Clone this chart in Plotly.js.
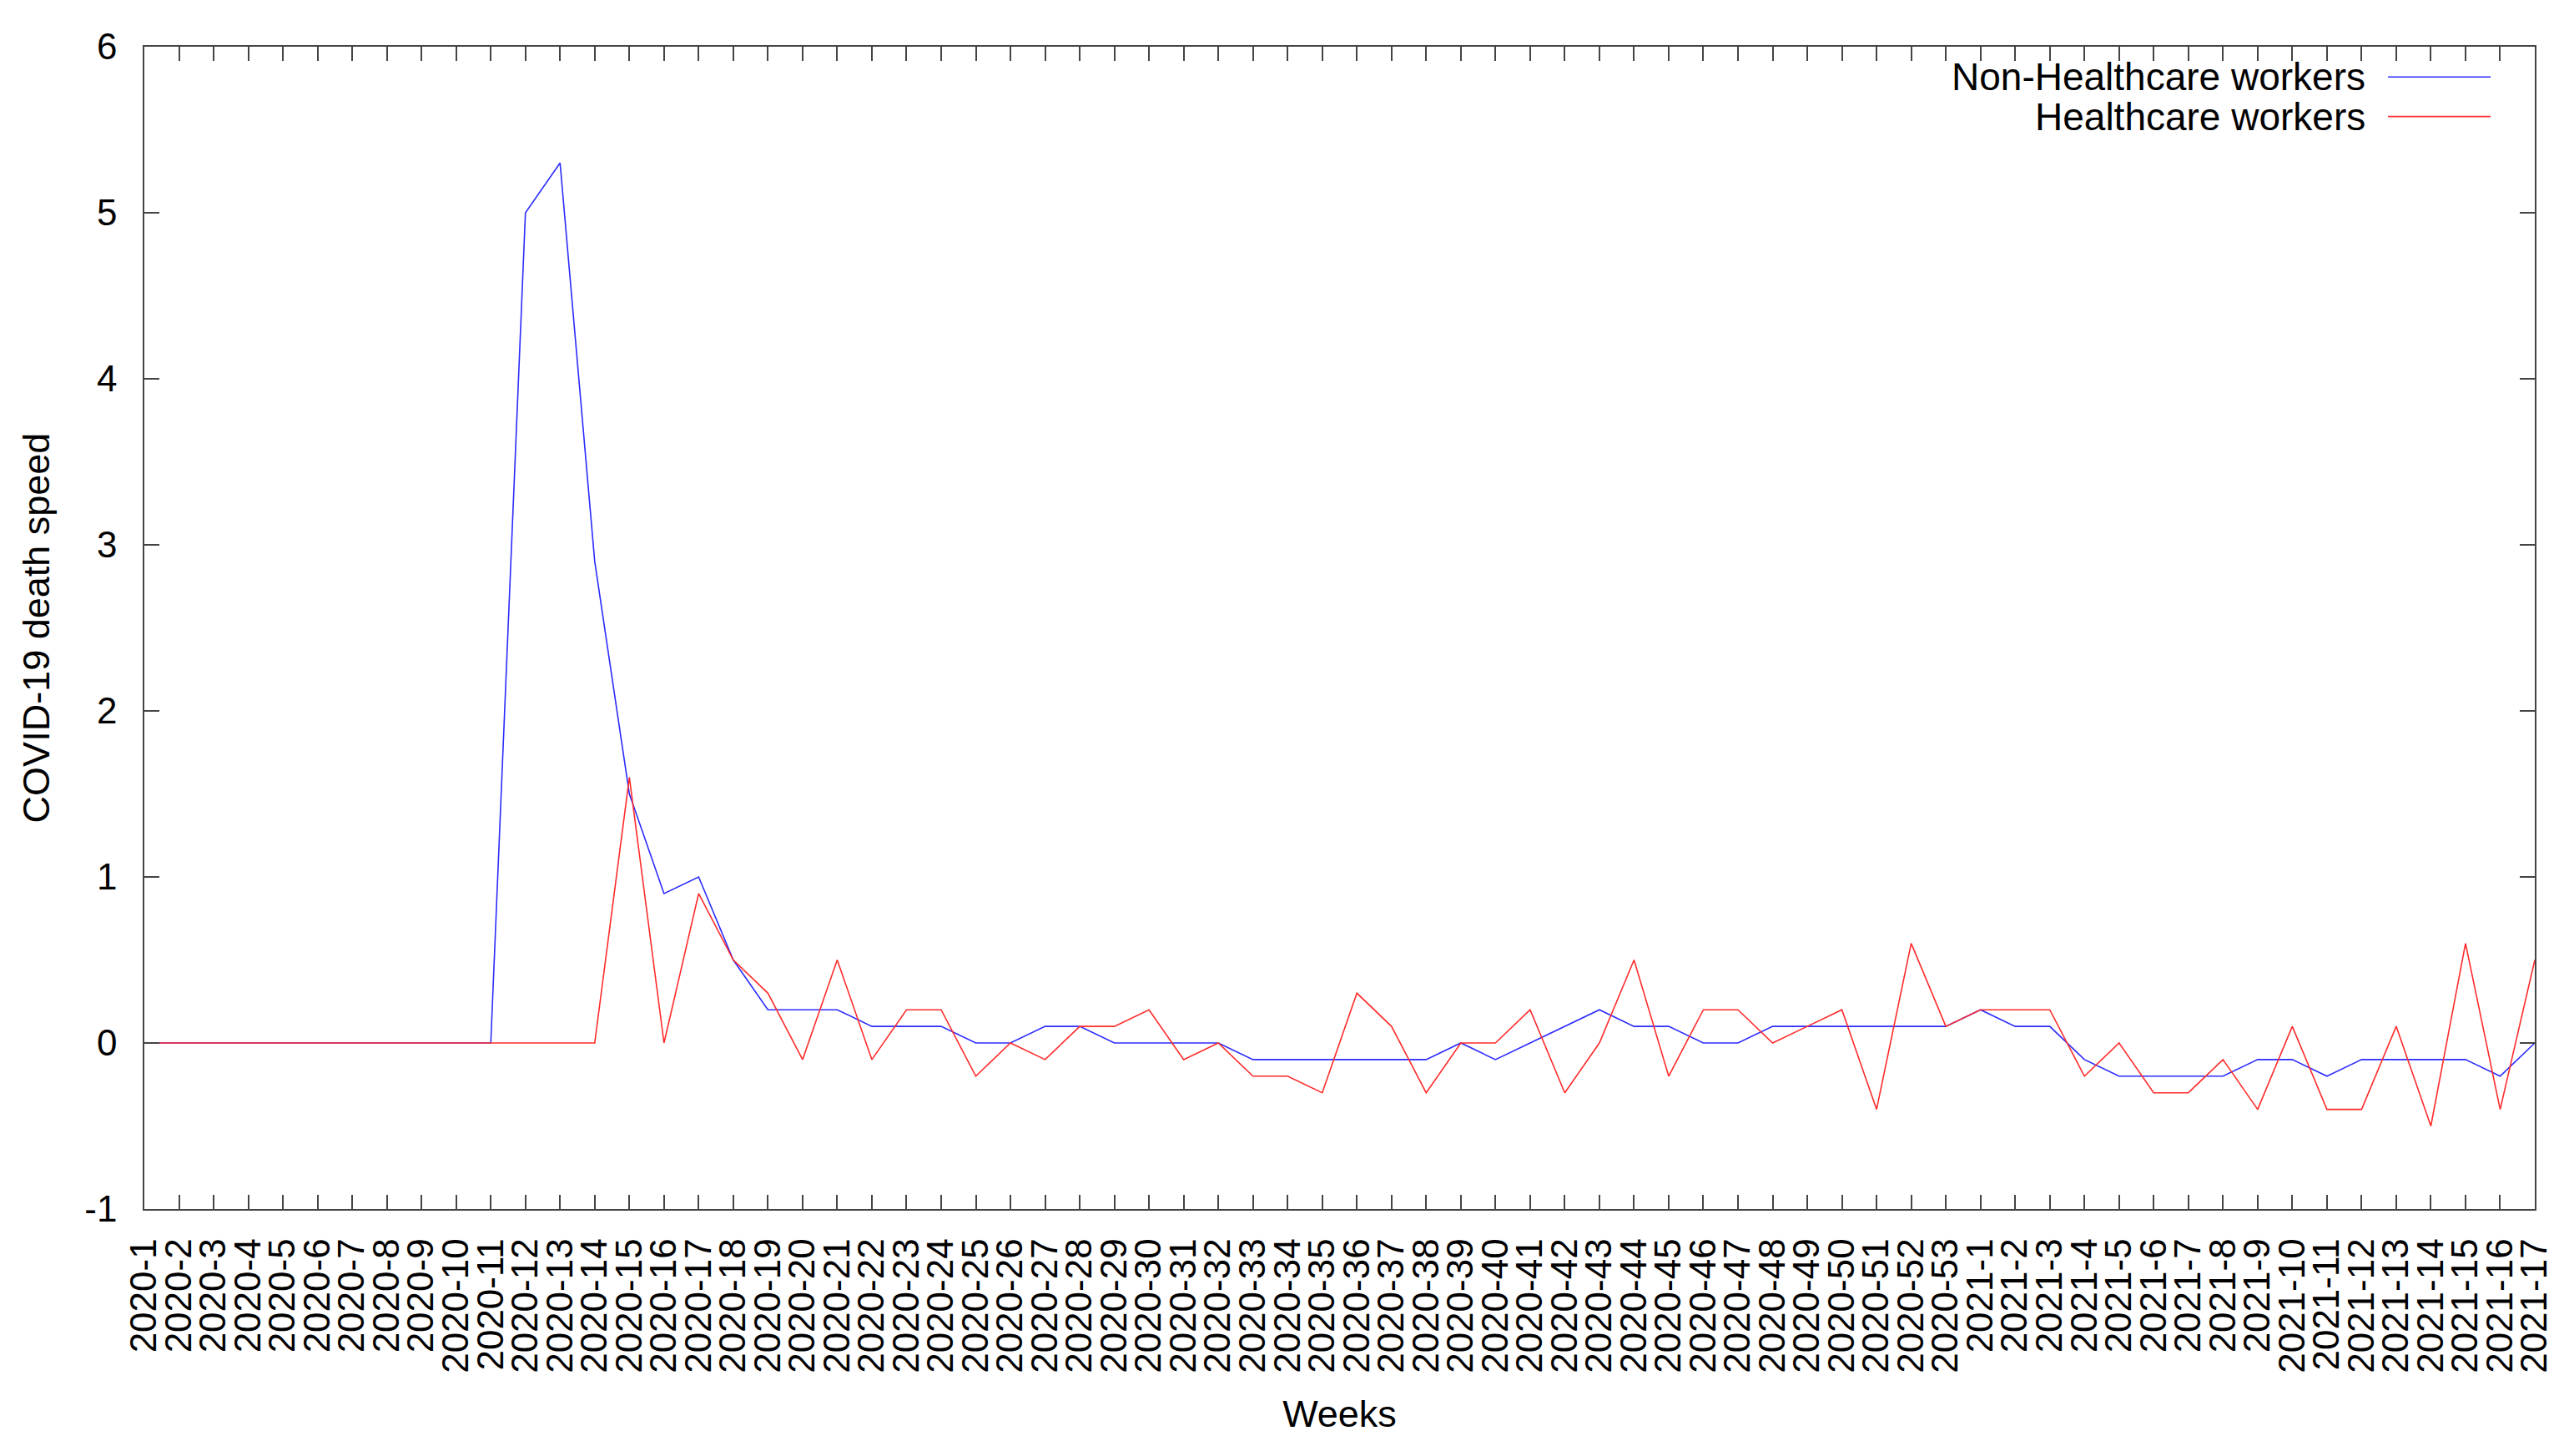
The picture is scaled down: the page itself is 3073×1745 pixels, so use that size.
<!DOCTYPE html>
<html>
<head>
<meta charset="utf-8">
<script src="https://cdn.plot.ly/plotly-3.0.1.min.js"></script>
<style>
  html, body { margin: 0; padding: 0; background: #fff; }
  #chart { width: 3073px; height: 1745px; }
</style>
</head>
<body>
<div id="chart"></div>
<script>
// week labels: 2020-1 .. 2020-53, then 2021-1 .. 2021-17
const weeks = [
  '2020-1','2020-2','2020-3','2020-4','2020-5','2020-6','2020-7','2020-8','2020-9','2020-10',
  '2020-11','2020-12','2020-13','2020-14','2020-15','2020-16','2020-17','2020-18','2020-19','2020-20',
  '2020-21','2020-22','2020-23','2020-24','2020-25','2020-26','2020-27','2020-28','2020-29','2020-30',
  '2020-31','2020-32','2020-33','2020-34','2020-35','2020-36','2020-37','2020-38','2020-39','2020-40',
  '2020-41','2020-42','2020-43','2020-44','2020-45','2020-46','2020-47','2020-48','2020-49','2020-50',
  '2020-51','2020-52','2020-53',
  '2021-1','2021-2','2021-3','2021-4','2021-5','2021-6','2021-7','2021-8','2021-9','2021-10',
  '2021-11','2021-12','2021-13','2021-14','2021-15','2021-16','2021-17'
];

const nonHealthcare = [
  0, 0, 0, 0, 0, 0, 0, 0, 0, 0,
  0, 5.0, 5.3, 2.9, 1.5, 0.9, 1.0, 0.5, 0.2, 0.2,
  0.2, 0.1, 0.1, 0.1, 0, 0, 0.1, 0.1, 0, 0,
  0, 0, -0.1, -0.1, -0.1, -0.1, -0.1, -0.1, 0, -0.1,
  0, 0.1, 0.2, 0.1, 0.1, 0, 0, 0.1, 0.1, 0.1,
  0.1, 0.1, 0.1,
  0.2, 0.1, 0.1, -0.1, -0.2, -0.2, -0.2, -0.2, -0.1, -0.1,
  -0.2, -0.1, -0.1, -0.1, -0.1, -0.2, 0
];

const healthcare = [
  0, 0, 0, 0, 0, 0, 0, 0, 0, 0,
  0, 0, 0, 0, 1.6, 0, 0.9, 0.5, 0.3, -0.1,
  0.5, -0.1, 0.2, 0.2, -0.2, 0, -0.1, 0.1, 0.1, 0.2,
  -0.1, 0, -0.2, -0.2, -0.3, 0.3, 0.1, -0.3, 0, 0,
  0.2, -0.3, 0, 0.5, -0.2, 0.2, 0.2, 0, 0.1, 0.2,
  -0.4, 0.6, 0.1,
  0.2, 0.2, 0.2, -0.2, 0, -0.3, -0.3, -0.1, -0.4, 0.1,
  -0.4, -0.4, 0.1, -0.5, 0.6, -0.4, 0.5
];

const yTicks = [-1, 0, 1, 2, 3, 4, 5, 6];
const yTickText = ['-1', '0', '1', '2', '3', '4', '5', '6'];

const seriesNames = ['Non-Healthcare workers', 'Healthcare workers'];
const seriesColors = ['#2b2bff', '#ff2b2b'];

const FONT = 'Liberation Sans, Arial, Helvetica, sans-serif';

const traces = [nonHealthcare, healthcare].map((vals, i) => ({
  x: weeks,
  y: vals,
  type: 'scatter',
  mode: 'lines',
  name: seriesNames[i],
  line: { color: seriesColors[i], width: 1.6 },
  showlegend: false
}));

// gnuplot style key: text right-aligned, line sample to its right
const annotations = seriesNames.map((name, i) => ({
  xref: 'paper', yref: 'paper',
  x: 0.9298, y: 0.974 - i * 0.034,
  xanchor: 'right', yanchor: 'middle',
  text: name, showarrow: false,
  font: { family: FONT, size: 46, color: '#000' }
}));
const shapes = seriesNames.map((name, i) => ({
  type: 'line', xref: 'paper', yref: 'paper',
  x0: 0.9386, x1: 0.9815,
  y0: 0.974 - i * 0.034, y1: 0.974 - i * 0.034,
  line: { color: seriesColors[i], width: 1.6 }
}));

const axisCommon = {
  showgrid: false,
  zeroline: false,
  showline: true,
  linecolor: '#444',
  linewidth: 1.5,
  mirror: 'ticks',
  ticks: 'inside',
  tickcolor: '#444',
  tickwidth: 1.5,
  tickfont: { family: FONT, size: 44, color: '#000' }
};

const layout = {
  width: 3073,
  height: 1745,
  margin: { l: 173, r: 35, t: 56, b: 296 },
  paper_bgcolor: '#fff',
  plot_bgcolor: '#fff',
  font: { family: FONT, size: 46, color: '#000' },
  xaxis: Object.assign({}, axisCommon, {
    type: 'category',
    range: [0, weeks.length - 1],
    tickmode: 'array',
    tickvals: weeks,
    ticktext: weeks,
    tickangle: -90,
    ticklen: 17,
    ticklabelstandoff: 16,
    title: { text: 'Weeks', font: { family: FONT, size: 45 }, standoff: 34 }
  }),
  yaxis: Object.assign({}, axisCommon, {
    range: [-1, 6],
    tickmode: 'array',
    tickvals: yTicks,
    ticktext: yTickText,
    ticklen: 18,
    ticklabelstandoff: 22,
    title: { text: 'COVID-19 death speed', font: { family: FONT, size: 45 }, standoff: 28 }
  }),
  annotations: annotations,
  shapes: shapes
};

Plotly.newPlot('chart', traces, layout, { displayModeBar: false, responsive: false });
</script>
</body>
</html>
